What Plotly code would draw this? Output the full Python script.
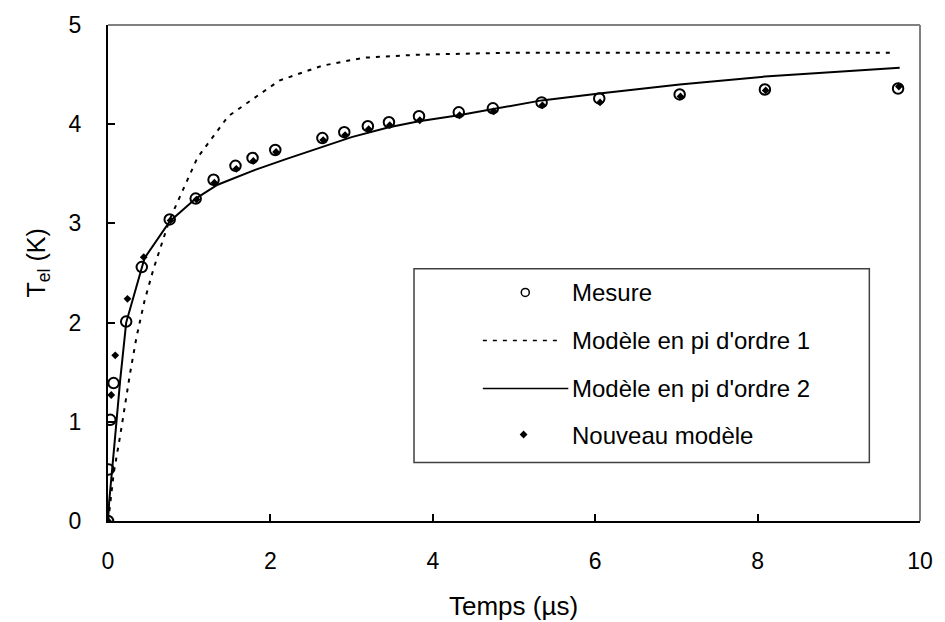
import plotly.graph_objects as go

# Mesure (open circles)
t_mesure = [0, 0.007, 0.028, 0.069, 0.224, 0.416, 0.76, 1.08, 1.30, 1.57, 1.78, 2.06,
            2.64, 2.91, 3.20, 3.46, 3.83, 4.32, 4.74, 5.34, 6.05, 7.04, 8.09, 9.73]
T_mesure = [0, 0.52, 1.02, 1.39, 2.01, 2.56, 3.04, 3.25, 3.44, 3.58, 3.66, 3.74,
            3.86, 3.92, 3.98, 4.02, 4.08, 4.12, 4.16, 4.22, 4.26, 4.30, 4.35, 4.36]

# Modèle en pi d'ordre 1 (dotted)
t_ordre1 = [0, 0.02, 0.07, 0.15, 0.27, 0.35, 0.45, 0.56, 0.76, 1.1, 1.48, 2.11,
            2.64, 3.15, 3.8, 4.9, 9.7]
T_ordre1 = [0, 0.12, 0.48, 0.86, 1.48, 1.85, 2.22, 2.54, 3.04, 3.66, 4.08, 4.44,
            4.59, 4.67, 4.70, 4.72, 4.72]

# Modèle en pi d'ordre 2 (solid)
t_ordre2 = [0, 0.015, 0.08, 0.15, 0.224, 0.45, 0.76, 1.08, 1.35, 1.78, 2.2, 2.64,
            3.0, 3.46, 3.83, 4.32, 4.8, 5.34, 6.05, 7.04, 8.09, 9.75]
T_ordre2 = [0, 0.2, 0.78, 1.42, 2.0, 2.65, 3.02, 3.25, 3.39, 3.53, 3.65, 3.77,
            3.87, 3.97, 4.03, 4.09, 4.16, 4.24, 4.31, 4.40, 4.48, 4.57]

# Nouveau modèle (small filled diamonds)
t_nouveau = [0, 0.04, 0.089, 0.24, 0.44, 0.77, 1.09, 1.31, 1.58, 1.79, 2.07, 2.65,
             2.92, 3.21, 3.47, 3.84, 4.33, 4.75, 5.35, 6.06, 7.05, 8.10, 9.74]
T_nouveau = [0, 1.27, 1.67, 2.24, 2.66, 3.03, 3.24, 3.41, 3.55, 3.63, 3.72, 3.84,
             3.89, 3.95, 3.99, 4.04, 4.09, 4.13, 4.19, 4.22, 4.28, 4.34, 4.38]

legend_labels = ["Mesure", "Modèle en pi d'ordre 1", "Modèle en pi d'ordre 2", "Nouveau modèle"]

x_ticks = [0, 2, 4, 6, 8, 10]
y_ticks = [0, 1, 2, 3, 4, 5]

FONT = "Liberation Sans, Arial, sans-serif"
W, H = 945, 622
L, R, T, B = 107.7, 925.0, 24.0, 520.6

fig = go.Figure()

fig.add_trace(go.Scatter(x=t_ordre1, y=T_ordre1, mode="lines",
                         line=dict(color="black", width=2, dash="4px,6px"),
                         showlegend=False, hoverinfo="skip"))
fig.add_trace(go.Scatter(x=t_ordre2, y=T_ordre2, mode="lines",
                         line=dict(color="black", width=2),
                         showlegend=False, hoverinfo="skip"))
fig.add_trace(go.Scatter(x=t_mesure, y=T_mesure, mode="markers",
                         marker=dict(symbol="circle-open", size=10.5, color="black",
                                     line=dict(width=2, color="black")),
                         showlegend=False))
fig.add_trace(go.Scatter(x=t_nouveau, y=T_nouveau, mode="markers",
                         marker=dict(symbol="diamond", size=6, color="black"),
                         showlegend=False))

# Legend drawn on an overlay axis measured in page pixels
fig.add_trace(go.Scatter(x=[527.7], y=[291.7], mode="markers", xaxis="x2", yaxis="y2",
                         marker=dict(symbol="circle-open", size=8, color="black",
                                     line=dict(width=1.5, color="black")),
                         showlegend=False, hoverinfo="skip"))
fig.add_trace(go.Scatter(x=[485, 562], y=[340, 340], mode="lines", xaxis="x2", yaxis="y2",
                         line=dict(color="black", width=1.5, dash="4px,6px"),
                         showlegend=False, hoverinfo="skip"))
fig.add_trace(go.Scatter(x=[485, 571], y=[388, 388], mode="lines", xaxis="x2", yaxis="y2",
                         line=dict(color="black", width=1.5),
                         showlegend=False, hoverinfo="skip"))
fig.add_trace(go.Scatter(x=[526], y=[434], mode="markers", xaxis="x2", yaxis="y2",
                         marker=dict(symbol="diamond", size=6, color="black"),
                         showlegend=False, hoverinfo="skip"))

shapes = [
    # legend frame
    dict(type="rect", xref="x2", yref="y2", x0=415.7, x1=874, y0=268, y1=462,
         line=dict(color="#404040", width=1.5), fillcolor="rgba(0,0,0,0)"),
    # grey top and right frame
    dict(type="line", xref="paper", yref="paper", x0=0, x1=1, y0=1, y1=1,
         line=dict(color="#808080", width=2)),
    dict(type="line", xref="paper", yref="paper", x0=1, x1=1, y0=0, y1=1,
         line=dict(color="#808080", width=2)),
]

annotations = []
for lab, yy in zip(legend_labels, [291.7, 340, 388, 435]):
    annotations.append(dict(xref="x2", yref="y2", x=573, y=yy, text=lab, showarrow=False,
                            xanchor="left", yanchor="middle",
                            font=dict(family=FONT, size=24, color="black")))

# axis titles
annotations.append(dict(xref="paper", yref="paper", x=(516 - L) / (R - L), y=(B - 606) / (B - T),
                        text="Temps (µs)", showarrow=False, xanchor="center", yanchor="middle",
                        font=dict(family=FONT, size=26, color="black")))
annotations.append(dict(xref="paper", yref="paper", x=(37 - L) / (R - L), y=(B - 262) / (B - T),
                        text="T<sub>el</sub> (K)", showarrow=False, textangle=-90,
                        xanchor="center", yanchor="middle",
                        font=dict(family=FONT, size=25, color="black")))

fig.update_layout(
    width=W, height=H,
    margin=dict(l=L, r=W - R, t=T, b=H - B, pad=0),
    paper_bgcolor="white", plot_bgcolor="white",
    font=dict(family=FONT, size=23, color="black"),
    xaxis=dict(range=[0, 10], tickvals=x_ticks, ticks="inside", ticklen=7, tickwidth=1.5,
               tickcolor="black", showline=True, linecolor="black", linewidth=2,
               showgrid=False, zeroline=False, ticklabelstandoff=18,
               tickfont=dict(family=FONT, size=23, color="black")),
    yaxis=dict(range=[0, 5], tickvals=y_ticks, ticks="inside", ticklen=7, tickwidth=1.5,
               tickcolor="black", showline=True, linecolor="black", linewidth=2,
               showgrid=False, zeroline=False, ticklabelstandoff=20,
               tickfont=dict(family=FONT, size=23, color="black")),
    xaxis2=dict(range=[L, R], overlaying="x", visible=False, fixedrange=True),
    yaxis2=dict(range=[B, T], overlaying="y", visible=False, fixedrange=True),
    shapes=shapes,
    annotations=annotations,
)

fig.write_html("out.html")
